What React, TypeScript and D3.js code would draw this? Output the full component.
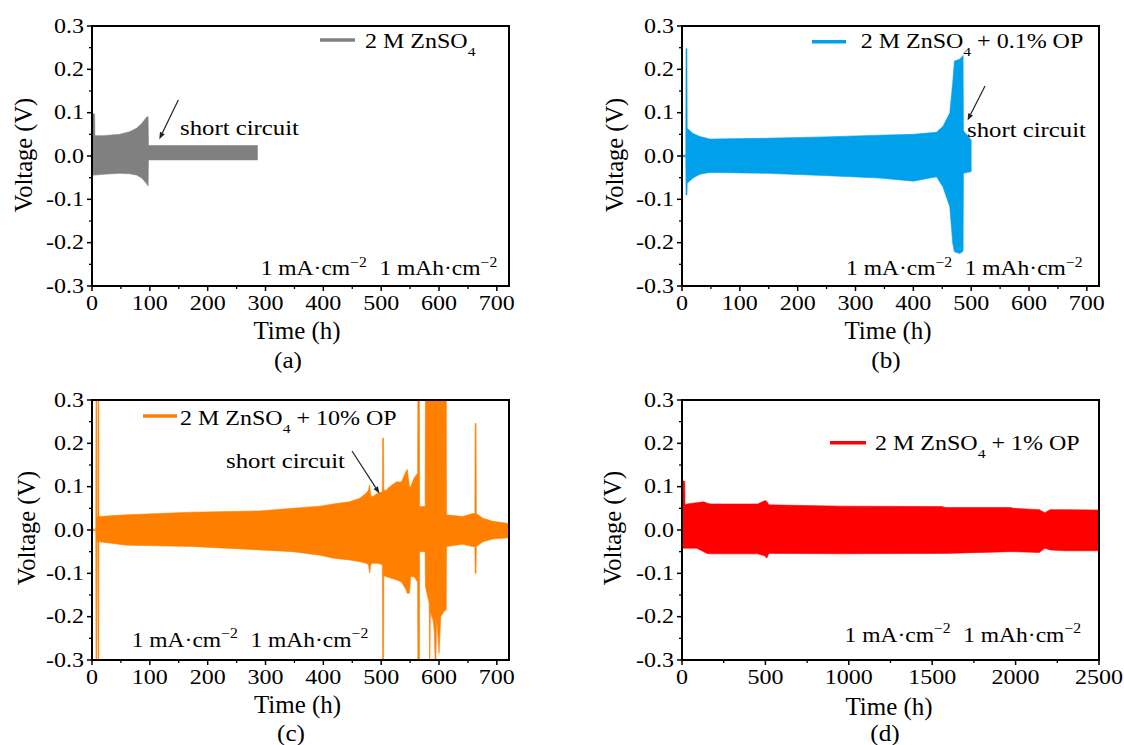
import React from 'react';
import * as d3 from 'd3';

const FONT = '"Liberation Serif", "Times New Roman", Times, serif';

// ---- tick labels ----
const timeTicks720 = [0, 100, 200, 300, 400, 500, 600, 700];
const timeTicks2500 = [0, 500, 1000, 1500, 2000, 2500];
const voltTicks = [-0.3, -0.2, -0.1, 0.0, 0.1, 0.2, 0.3];

// ---- (a) 2 M ZnSO4 : envelope of the voltage oscillation ----
const aTime = [0, 4.5, 5, 20, 48, 65, 77, 86, 94, 97, 97.6, 286];
const aHigh = [0.097, 0.097, 0.047, 0.047, 0.05, 0.056, 0.064, 0.075, 0.089, 0.091, 0.024, 0.024];
const aLow = [-0.044, -0.044, -0.044, -0.042, -0.04, -0.041, -0.044, -0.051, -0.063, -0.069, -0.009, -0.009];

// ---- (b) 2 M ZnSO4 + 0.1% OP ----
const bTime = [0, 6.5, 7, 8.5, 9, 19, 31, 48, 146, 244, 342, 400, 440, 451, 463, 468, 471, 480, 486, 486.6, 500];
const bHigh = [0.002, 0.002, 0.248, 0.248, 0.064, 0.052, 0.045, 0.039, 0.041, 0.044, 0.048, 0.05, 0.055, 0.068, 0.099, 0.168, 0.219, 0.223, 0.232, 0.058, 0.037];
const bLow = [-0.002, -0.002, -0.09, -0.09, -0.063, -0.051, -0.042, -0.038, -0.04, -0.045, -0.051, -0.058, -0.048, -0.071, -0.117, -0.201, -0.221, -0.225, -0.22, -0.04, -0.036];

// ---- (c) 2 M ZnSO4 + 10% OP ----
const cTime = [0, 6.5, 7, 8, 8.5, 10, 10.5, 11.5, 12, 60, 172, 290, 347, 394, 417, 445, 463, 474, 478, 480, 482, 485, 494, 502, 502.5, 504, 504.5, 509, 514.5, 526, 535, 543, 545, 549, 551, 557, 563, 563.5, 566, 566.5, 576, 576.5, 583, 584, 585, 590, 592, 594, 596, 600, 603, 610, 612.5, 613, 641, 658, 662, 662.5, 664, 664.5, 676, 693, 720];
const cHigh = [0.002, 0.002, 0.35, 0.35, 0.03, 0.03, 0.35, 0.35, 0.031, 0.035, 0.041, 0.044, 0.05, 0.055, 0.06, 0.065, 0.073, 0.085, 0.092, 0.104, 0.08, 0.077, 0.085, 0.088, 0.212, 0.212, 0.092, 0.092, 0.1, 0.111, 0.111, 0.135, 0.14, 0.1, 0.1, 0.12, 0.131, 0.35, 0.35, 0.054, 0.054, 0.35, 0.35, 0.35, 0.35, 0.35, 0.35, 0.35, 0.35, 0.35, 0.35, 0.35, 0.35, 0.035, 0.031, 0.038, 0.038, 0.246, 0.246, 0.038, 0.027, 0.02, 0.015];
const cLow = [-0.002, -0.002, -0.35, -0.35, -0.027, -0.027, -0.35, -0.35, -0.027, -0.035, -0.038, -0.046, -0.05, -0.058, -0.065, -0.069, -0.073, -0.077, -0.08, -0.1, -0.08, -0.077, -0.077, -0.08, -0.35, -0.35, -0.105, -0.108, -0.11, -0.115, -0.12, -0.138, -0.146, -0.146, -0.108, -0.108, -0.12, -0.35, -0.35, -0.05, -0.05, -0.131, -0.169, -0.35, -0.19, -0.21, -0.238, -0.35, -0.2, -0.285, -0.2, -0.185, -0.185, -0.038, -0.033, -0.038, -0.038, -0.1, -0.1, -0.038, -0.027, -0.021, -0.018];

// ---- (d) 2 M ZnSO4 + 1% OP ----
const dTime = [0, 16, 18, 30, 87, 130, 151, 173, 454, 498, 508, 520, 952, 1558, 1580, 1969, 1990, 2142, 2175, 2207, 2294, 2500];
const dHigh = [0.115, 0.112, 0.058, 0.06, 0.063, 0.065, 0.062, 0.06, 0.06, 0.068, 0.066, 0.058, 0.055, 0.054, 0.052, 0.052, 0.05, 0.047, 0.04, 0.047, 0.047, 0.046];
const dLow = [-0.042, -0.042, -0.042, -0.042, -0.042, -0.05, -0.054, -0.055, -0.055, -0.06, -0.065, -0.054, -0.055, -0.054, -0.054, -0.05, -0.05, -0.052, -0.042, -0.046, -0.048, -0.048];

const seriesNames = ['2 M ZnSO', '2 M ZnSO', '2 M ZnSO', '2 M ZnSO'];
const seriesSuffix = ['', ' + 0.1% OP', ' + 10% OP', ' + 1% OP'];
const panelLetters = ['(a)', '(b)', '(c)', '(d)'];

// ---- layout ----
const LAYOUT = [
  {
    x0: 92, y0: 26, w: 417, h: 260, xMax: 721, xTicks: timeTicks720, color: '#808080',
    t: aTime, hi: aHigh, lo: aLow,
    legLine: [320, 355, 40], legText: [365, 48.3],
    note: [260.7, 275],
    arrow: { text: [180, 135], from: [178.3, 100], to: [159.3, 139.3] },
    xTitle: [297, 339], letter: [288, 368], yTitle: [32, 155],
  },
  {
    x0: 682, y0: 26, w: 417, h: 260, xMax: 721, xTicks: timeTicks720, color: '#00A0EA',
    t: bTime, hi: bHigh, lo: bLow,
    legLine: [812, 846, 41.7], legText: [860.7, 48.3],
    note: [846, 275],
    arrow: { text: [967, 136.7], from: [985, 86], to: [967.5, 120.5] },
    xTitle: [888, 339], letter: [886, 368], yTitle: [623, 155],
  },
  {
    x0: 92, y0: 400, w: 417, h: 260, xMax: 721, xTicks: timeTicks720, color: '#FF8000',
    t: cTime, hi: cHigh, lo: cLow,
    legLine: [143, 177, 416], legText: [180, 425],
    note: [131.7, 646.7],
    arrow: { text: [226, 468], from: [352, 451], to: [379.5, 493.5] },
    xTitle: [297.5, 713], letter: [291, 741], yTitle: [35, 528],
  },
  {
    x0: 682, y0: 400, w: 417, h: 260, xMax: 2500, xTicks: timeTicks2500, color: '#FF0000',
    t: dTime, hi: dHigh, lo: dLow,
    legLine: [830, 866, 442.7], legText: [875, 450],
    note: [844.5, 641.7],
    arrow: null as any,
    xTitle: [889, 715], letter: [885, 741], yTitle: [621, 528],
  },
];

const SX = 1.18;

function STxt(props: { x: number; y: number; size: number; sx?: number; anchor?: string; children: any }) {
  const { x, y, size, sx = SX, anchor = 'start', children } = props;
  return (
    <text
      transform={`translate(${x},${y}) scale(${sx},1)`}
      fontFamily={FONT}
      fontSize={size}
      textAnchor={anchor as any}
      fill="#000"
    >
      {children}
    </text>
  );
}

function Arrow({ from, to }: { from: number[]; to: number[] }) {
  const [x1, y1] = from;
  const [x2, y2] = to;
  const ang = Math.atan2(y2 - y1, x2 - x1);
  const L = 7;
  const W = 2.6;
  const bx = x2 - L * Math.cos(ang);
  const by = y2 - L * Math.sin(ang);
  const px = -Math.sin(ang) * W;
  const py = Math.cos(ang) * W;
  return (
    <g>
      <line x1={x1} y1={y1} x2={bx} y2={by} stroke="#222" strokeWidth={1.2} />
      <polygon points={`${x2},${y2} ${bx + px},${by + py} ${bx - px},${by - py}`} fill="#222" />
    </g>
  );
}

function Panel({ cfg, idx }: { cfg: (typeof LAYOUT)[number]; idx: number }) {
  const { x0, y0, w, h, xMax, xTicks } = cfg;
  const xs = d3.scaleLinear().domain([0, xMax]).range([x0, x0 + w]);
  const ys = d3.scaleLinear().domain([-0.3, 0.3]).range([y0 + h, y0]);
  const step = xTicks[1] - xTicks[0];
  const xMinor = d3.range(step / 2, xMax, step);
  const yMinor = d3.range(-0.25, 0.3, 0.1);
  const area = d3
    .area<number>()
    .x((i) => xs(cfg.t[i]))
    .y0((i) => ys(cfg.lo[i]))
    .y1((i) => ys(cfg.hi[i]));
  const d = area(d3.range(cfg.t.length)) || '';
  const clipId = `clip-${idx}`;
  const yb = y0 + h;
  return (
    <g>
      <defs>
        <clipPath id={clipId}>
          <rect x={x0} y={y0} width={w} height={h} />
        </clipPath>
      </defs>
      <path d={d} fill={cfg.color} stroke={cfg.color} strokeWidth={0.6} clipPath={`url(#${clipId})`} />
      {/* frame */}
      <rect x={x0} y={y0} width={w} height={h} fill="none" stroke="#000" strokeWidth={2} />
      {/* x ticks */}
      {xTicks.map((v) => (
        <line key={`xt${v}`} x1={xs(v)} x2={xs(v)} y1={yb} y2={yb + 5} stroke="#000" strokeWidth={1.5} />
      ))}
      {xMinor.map((v) => (
        <line key={`xm${v}`} x1={xs(v)} x2={xs(v)} y1={yb} y2={yb + 3} stroke="#000" strokeWidth={1.3} />
      ))}
      {xTicks.map((v) => (
        <STxt key={`xl${v}`} x={xs(v)} y={yb + 24} size={20} sx={1.2} anchor="middle">
          {String(v)}
        </STxt>
      ))}
      {/* y ticks */}
      {voltTicks.map((v) => (
        <line key={`yt${v}`} x1={x0 - 5} x2={x0} y1={ys(v)} y2={ys(v)} stroke="#000" strokeWidth={1.5} />
      ))}
      {yMinor.map((v) => (
        <line key={`ym${v.toFixed(2)}`} x1={x0 - 3} x2={x0} y1={ys(v)} y2={ys(v)} stroke="#000" strokeWidth={1.3} />
      ))}
      {voltTicks.map((v) => (
        <STxt key={`yl${v}`} x={x0 - 8} y={ys(v) + 6.8} size={20} sx={1.2} anchor="end">
          {v.toFixed(1)}
        </STxt>
      ))}
      {/* axis titles */}
      <STxt x={cfg.xTitle[0]} y={cfg.xTitle[1]} size={24.5} sx={1.02} anchor="middle">
        Time (h)
      </STxt>
      <text
        transform={`translate(${cfg.yTitle[0]},${cfg.yTitle[1]}) rotate(-90) scale(1.0,1)`}
        fontFamily={FONT}
        fontSize={24.5}
        textAnchor="middle"
      >
        Voltage (V)
      </text>
      <STxt x={cfg.letter[0]} y={cfg.letter[1]} size={24} sx={1.05} anchor="middle">
        {panelLetters[idx]}
      </STxt>
      {/* legend */}
      <line
        x1={cfg.legLine[0]}
        x2={cfg.legLine[1]}
        y1={cfg.legLine[2]}
        y2={cfg.legLine[2]}
        stroke={cfg.color}
        strokeWidth={3.5}
      />
      <STxt x={cfg.legText[0]} y={cfg.legText[1]} size={20} sx={1.2}>
        {seriesNames[idx]}
        <tspan dy={7.5} fontSize={13}>4</tspan>
        <tspan dy={-7.5}>{seriesSuffix[idx]}</tspan>
      </STxt>
      {/* condition note */}
      <STxt x={cfg.note[0]} y={cfg.note[1]} size={21} sx={1.12}>
        1 mA·cm
        <tspan dy={-8.5} fontSize={14}>−2</tspan>
        <tspan dy={8.5} dx={6}> 1 mAh·cm</tspan>
        <tspan dy={-8.5} fontSize={14}>−2</tspan>
      </STxt>
      {cfg.arrow && (
        <g>
          <STxt x={cfg.arrow.text[0]} y={cfg.arrow.text[1]} size={21} sx={1.18}>
            short circuit
          </STxt>
          <Arrow from={cfg.arrow.from} to={cfg.arrow.to} />
        </g>
      )}
    </g>
  );
}

export default function App() {
  return (
    <svg
      width={1124}
      height={745}
      viewBox="0 0 1124 745"
      style={{ position: 'absolute', left: 0, top: 0, background: '#fff' }}
    >
      <rect x={0} y={0} width={1124} height={745} fill="#fff" />
      {LAYOUT.map((cfg, i) => (
        <Panel key={i} cfg={cfg} idx={i} />
      ))}
    </svg>
  );
}
